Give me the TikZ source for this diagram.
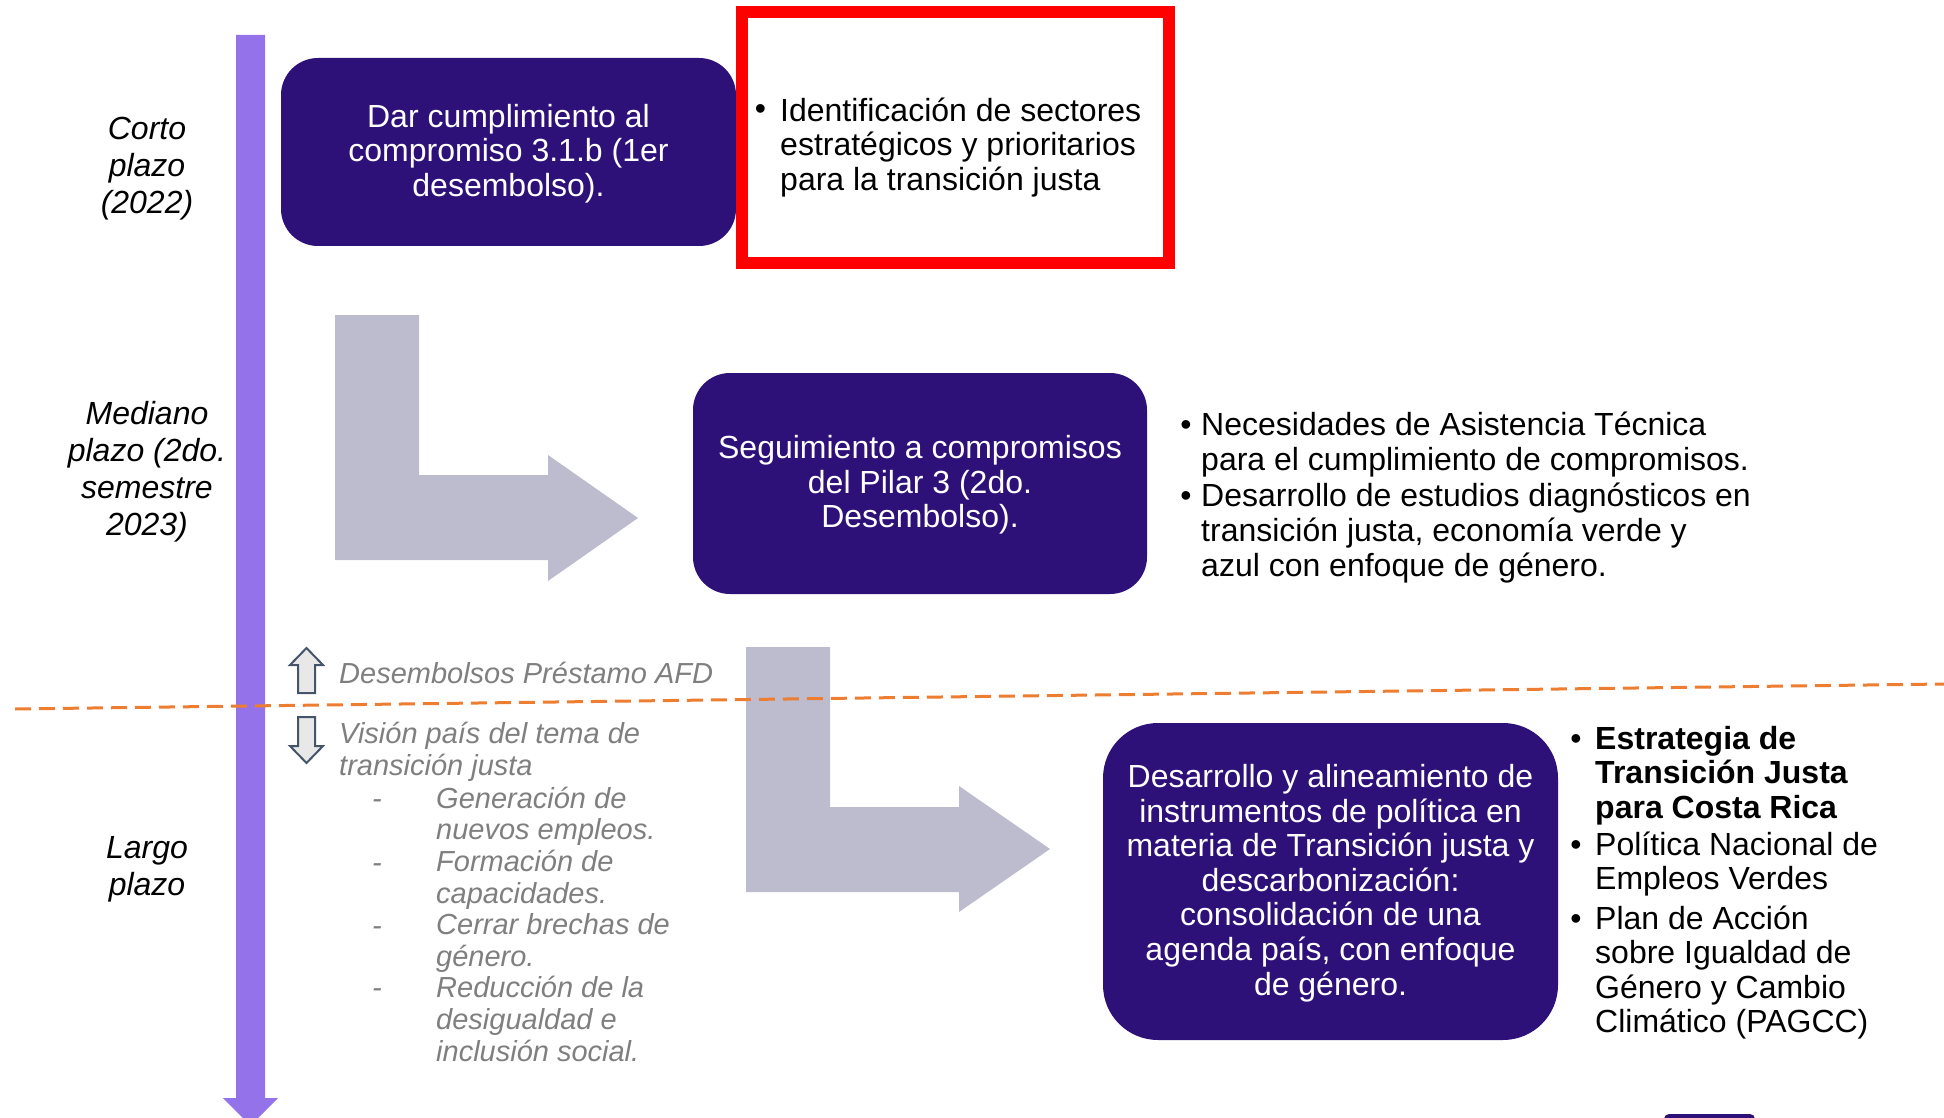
\documentclass[tikz,border=0pt]{standalone}
\usepackage{fontspec}
\setmainfont{Liberation Sans}
\definecolor{dpurple}{RGB}{46,17,120}
\definecolor{tlpurple}{RGB}{147,114,234}
\definecolor{lgray}{RGB}{189,187,206}
\definecolor{orangeL}{RGB}{237,125,49}
\definecolor{txtgray}{RGB}{127,127,127}
\definecolor{slate}{RGB}{68,84,106}
\definecolor{arrfill}{RGB}{232,232,232}
\newcommand{\tstr}{\rule{0pt}{30pt}}
\begin{document}
\begin{tikzpicture}[x=1pt,y=-1pt,
 darkbox/.style={fill=dpurple, draw=none, rounded corners=37pt, text=white, align=center, inner sep=0pt, font=\fontsize{32}{34.6}\selectfont},
 blist/.style={anchor=north west, inner sep=0pt, align=left, font=\fontsize{32}{34.5}\selectfont},
 bul/.style={anchor=base, inner sep=0pt, font=\fontsize{32}{34.5}\selectfont},
 period/.style={anchor=north, inner sep=0pt, align=center, font=\fontsize{32}{37}\selectfont\itshape},
 gtxt/.style={text=txtgray, inner sep=0pt, align=left, font=\fontsize{29}{31.6}\selectfont\itshape},
 larrow/.style={fill=lgray, draw=none},
 hollow/.style={fill=arrfill, draw=slate, line width=2pt, line join=miter},
]
\useasboundingbox (0,0) rectangle (1944,1118);
\clip (0,0) rectangle (1944,1118);

% timeline arrow
\fill[tlpurple] (236,35) -- (265,35) -- (265,1098) -- (278,1098) -- (250.5,1125.5) -- (223,1098) -- (236,1098) -- cycle;

% period labels
\node[period] (corto) at (147,113) {\strut Corto\\\strut plazo\\\strut (2022)};
\node[period] (mediano) at (147,398) {\strut Mediano\\\strut plazo (2do.\\\strut semestre\\\strut 2023)};
\node[period] (largo) at (147,832) {\strut Largo\\\strut plazo};

% bent arrows
\fill[larrow] (335,315) -- (419,315) -- (419,475) -- (548,475) -- (548,455) -- (638,518) -- (548,581) -- (548,560) -- (335,560) -- cycle;
\fill[larrow] (746,647) -- (830,647) -- (830,807) -- (959,807) -- (959,786) -- (1050,849) -- (959,912) -- (959,892) -- (746,892) -- cycle;

% box 1
\node[darkbox, minimum width=455pt, minimum height=188pt] (b1) at (508.5,152)
  {\tstr Dar cumplimiento al\\\strut compromiso 3.1.b (1er\\\strut desembolso).};
\node[draw=red, fill=white, line width=12pt, minimum width=427pt, minimum height=251pt, inner sep=0pt] (redbox) at (955.5,137.5) {};
\node[bul] (rb1) at (760.5,120) {•};
\node[blist] (rl1) at (780,96.85) {\strut Identificación de sectores\\\strut estratégicos y prioritarios\\\strut para la transición justa};

% box 2
\node[darkbox, minimum width=454pt, minimum height=221pt] (b2) at (920,483.5)
  {\tstr Seguimiento a compromisos\\\strut del Pilar 3 (2do.\\\strut Desembolso).};
\node[bul] (mb1) at (1186,435) {•};
\node[blist, font=\fontsize{32}{35}\selectfont] (ml1) at (1201,410.5) {\strut Necesidades de Asistencia Técnica\\\strut para el cumplimiento de compromisos.};
\node[bul] (mb2) at (1186,506) {•};
\node[blist, font=\fontsize{32}{35}\selectfont] (ml2) at (1201,481.5) {\strut Desarrollo de estudios diagnósticos en\\\strut transición justa, economía verde y\\\strut azul con enfoque de género.};

% separator
\coordinate (sepL) at (15,709);
\coordinate (sepR) at (1944,684);
\draw[orangeL, line width=3pt, dash pattern=on 16pt off 8pt] (sepL) -- (sepR);

% AFD legend
\draw[hollow] (306.5,648) -- (323,665) -- (315,665) -- (315,693) -- (298,693) -- (298,665) -- (290,665) -- cycle;
\node[gtxt, anchor=base west] (afd) at (339,683) {Desembolsos Préstamo AFD};
\draw[hollow] (298,717) -- (315,717) -- (315,746) -- (323,746) -- (306.5,763) -- (290,746) -- (298,746) -- cycle;
\node[gtxt, anchor=north west, font=\fontsize{29}{32}\selectfont\itshape] (vision) at (339,720.6) {\strut Visión país del tema de\\\strut transición justa};
\node[gtxt, anchor=base] (d1) at (377,808) {-};
\node[gtxt, anchor=base] (d2) at (377,872) {-};
\node[gtxt, anchor=base] (d3) at (377,935) {-};
\node[gtxt, anchor=base] (d4) at (377,997) {-};
\node[gtxt, anchor=north west] (items) at (436,785.9) {\strut Generación de\\\strut nuevos empleos.\\\strut Formación de\\\strut capacidades.\\\strut Cerrar brechas de\\\strut género.\\\strut Reducción de la\\\strut desigualdad e\\\strut inclusión social.};

% box 3
\node[darkbox, rounded corners=55pt, minimum width=455pt, minimum height=317pt] (b3) at (1330.5,881.5)
  {\tstr Desarrollo y alineamiento de\\\strut instrumentos de política en\\\strut materia de Transición justa y\\\strut descarbonización:\\\strut consolidación de una\\\strut agenda país, con enfoque\\\strut de género.};
\node[bul] (lb1) at (1576,749) {•};
\node[blist, font=\fontsize{32}{34.5}\selectfont\bfseries] (ll1) at (1595,724.85) {\strut Estrategia de\\\strut Transición Justa\\\strut para Costa Rica};
\node[bul] (lb2) at (1576,855) {•};
\node[blist] (ll2) at (1595,830.85) {\strut Política Nacional de\\\strut Empleos Verdes};
\node[bul] (lb3) at (1576,929) {•};
\node[blist] (ll3) at (1595,904.85) {\strut Plan de Acción\\\strut sobre Igualdad de\\\strut Género y Cambio\\\strut Climático (PAGCC)};

% partial shape at bottom edge
\fill[dpurple, rounded corners=5pt] (1664,1114) rectangle (1755,1150);
\end{tikzpicture}
\end{document}
